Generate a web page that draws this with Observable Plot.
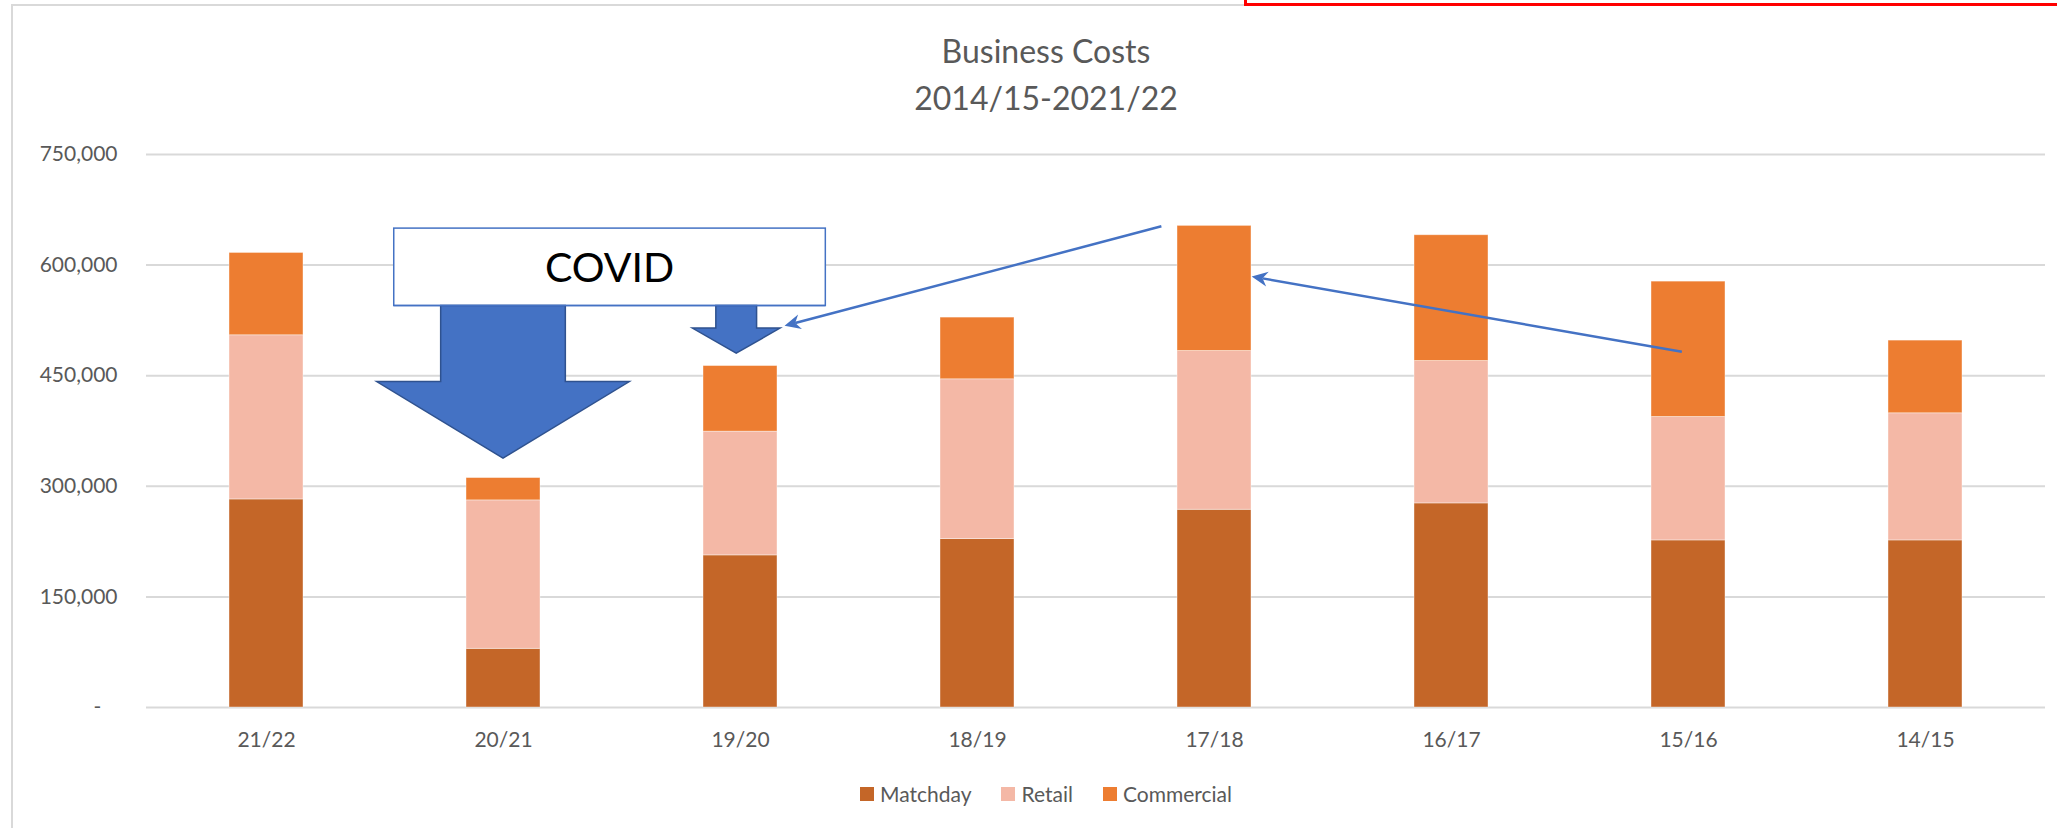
<!DOCTYPE html>
<html><head><meta charset="utf-8">
<script src="https://cdn.jsdelivr.net/npm/d3@7"></script>
<script src="https://cdn.jsdelivr.net/npm/@observablehq/plot@0.6"></script>
<style>
html,body{margin:0;padding:0;background:#fff;overflow:hidden}
#wrap{position:relative;width:2057px;height:828px;overflow:hidden;background:#fff}
#chart{position:absolute;left:0;top:0}
#frame{position:absolute;left:11px;top:4px;width:3000px;height:1000px;border-left:2px solid #D9D9D9;border-top:2px solid #D9D9D9;pointer-events:none}
#redbox{position:absolute;left:1244px;top:-100px;width:1000px;height:100px;border:3px solid #FF0000;background:#fff}
#legend{position:absolute;left:0;width:2092px;top:781px;display:flex;justify-content:center;align-items:center;gap:30px;
  font-family:Lato,'Open Sans',sans-serif;font-size:21px;color:#595959;line-height:25px;white-space:nowrap}
#legend .item{display:flex;align-items:center}
#legend .sw{display:inline-block;width:14px;height:14px;margin-right:6px}
</style></head>
<body><div id="wrap"><div id="chart"></div><div id="legend"></div><div id="frame"></div><div id="redbox"></div></div>
<script>
// ---- data ----
const seasons = ["21/22","20/21","19/20","18/19","17/18","16/17","15/16","14/15"];
const matchday   = [282200, 79600, 206300, 228400, 268200, 276800, 226600, 226600];
const retail     = [222600, 201300, 167800, 216700, 215300, 193100, 167400, 172400];
const commercial = [111700, 30300, 89000, 83700, 169700, 170600, 183600, 98600];
const seriesNames = ["Matchday","Retail","Commercial"];
const yTicks = [0,150000,300000,450000,600000,750000];
const titleText = "Business Costs";
const subtitleText = "2014/15-2021/22";
const covidLabel = "COVID";

// ---- styles ----
const seriesColors = ["#C46628","#F4B8A6","#ED7D31"];
const FONT = "Lato, 'Open Sans', sans-serif";
const TEXT = "#595959";
const BLUE = "#4472C4", BLUE_DARK = "#2F528F";

const seriesValues = [matchday, retail, commercial];
const rows = [];
seriesNames.forEach((s, k) => seasons.forEach((c, i) => rows.push({season: c, series: s, value: seriesValues[k][i]})));

const plot = Plot.plot({
  width: 2057, height: 828,
  marginTop: 154, marginBottom: 121, marginLeft: 146, marginRight: 12,
  style: {fontFamily: FONT, fontSize: "21px", color: TEXT, background: "transparent"},
  x: {domain: seasons, paddingInner: 0.688, paddingOuter: 0.344, label: null},
  y: {domain: [0, 750000], label: null},
  color: {domain: seriesNames, range: seriesColors},
  marks: [
    Plot.gridY(yTicks, {stroke: "#D9D9D9", strokeOpacity: 1, strokeWidth: 2}),
    Plot.barY(rows, Plot.stackY({x: "season", y: "value", fill: "series", order: seriesNames,
      stroke: "#fff", strokeWidth: 0.8, strokeOpacity: 0.5})),
    Plot.axisY(yTicks, {tickSize: 0, tickPadding: 29, label: null,
      tickFormat: d => d === 0 ? "-\u00a0\u00a0\u00a0" : d3.format(",")(d)}),
    Plot.axisX({tickSize: 0, tickPadding: 25, label: null})
  ]
});
document.getElementById("chart").appendChild(plot);

const svg = d3.select(plot);
const xs = plot.scale("x"), ys = plot.scale("y"), cs = plot.scale("color");
const xAt = (season, off) => xs.apply(season) + xs.bandwidth / 2 + off * xs.step;
const yAt = v => ys.apply(v);
const centerX = 1046;

// ---- title ----
const tg = svg.append("g").attr("font-family", FONT).attr("fill", TEXT).attr("font-size", 32).attr("text-anchor", "middle");
tg.append("text").attr("x", centerX).attr("y", 62.5).text(titleText);
tg.append("text").attr("x", centerX).attr("y", 109.5).text(subtitleText);

// ---- annotations (placed in data space) ----
const covidBox = {from: ["20/21", -0.461], to: ["20/21", 1.36], top: 649500, bottom: 544500};
const blockArrows = [
  {season: "20/21", off: 0.0,    shaftHalf: 0.263, headHalf: 0.533, base: 441400, tip: 337500},
  {season: "19/20", off: -0.016, shaftHalf: 0.086, headHalf: 0.185, base: 513900, tip: 479900}
];
const lineArrows = [
  {from: ["17/18", -0.222, 651900], to: ["19/20", 0.188, 517000]},
  {from: ["15/16", -0.026, 481700], to: ["17/18", 0.159, 583900]}
];

const ag = svg.append("g");
const bx0 = xAt(...covidBox.from), bx1 = xAt(...covidBox.to);
const by0 = yAt(covidBox.top), by1 = yAt(covidBox.bottom);
ag.append("rect").attr("x", bx0).attr("y", by0).attr("width", bx1 - bx0).attr("height", by1 - by0)
  .attr("fill", "#fff").attr("stroke", BLUE).attr("stroke-width", 1.5);
ag.append("text").attr("x", (bx0 + bx1) / 2).attr("y", (by0 + by1) / 2).attr("dy", "0.36em")
  .attr("text-anchor", "middle").attr("font-family", FONT).attr("font-size", 41).attr("fill", "#000").text(covidLabel);

blockArrows.forEach(a => {
  const cx = xAt(a.season, a.off), sw = a.shaftHalf * xs.step, hw = a.headHalf * xs.step;
  const top = by1, base = yAt(a.base), tip = yAt(a.tip);
  const pts = [[cx - sw, top], [cx - sw, base], [cx - hw, base], [cx, tip], [cx + hw, base], [cx + sw, base], [cx + sw, top]];
  ag.append("path").attr("d", "M" + pts.map(p => p.join(",")).join("L") + "Z")
    .attr("fill", BLUE).attr("stroke", BLUE_DARK).attr("stroke-width", 1.5).attr("stroke-linejoin", "miter");
});
ag.append("line").attr("x1", bx0).attr("x2", bx1).attr("y1", by1).attr("y2", by1).attr("stroke", BLUE).attr("stroke-width", 1.5);

lineArrows.forEach(a => {
  const x0 = xAt(a.from[0], a.from[1]), y0 = yAt(a.from[2]);
  const x1 = xAt(a.to[0], a.to[1]), y1 = yAt(a.to[2]);
  const len = Math.hypot(x1 - x0, y1 - y0), ux = (x1 - x0) / len, uy = (y1 - y0) / len, nx = -uy, ny = ux;
  const L = 16, W = 7.5, N = 11;
  ag.append("line").attr("x1", x0).attr("y1", y0).attr("x2", x1 - N * ux).attr("y2", y1 - N * uy)
    .attr("stroke", BLUE).attr("stroke-width", 2.5);
  const p = [[x1, y1], [x1 - L * ux + W * nx, y1 - L * uy + W * ny], [x1 - N * ux, y1 - N * uy], [x1 - L * ux - W * nx, y1 - L * uy - W * ny]];
  ag.append("path").attr("d", "M" + p.map(q => q.join(",")).join("L") + "Z").attr("fill", BLUE);
});

// ---- legend (HTML, colours from the plot's color scale) ----
const legend = d3.select("#legend");
seriesNames.forEach(s => {
  const it = legend.append("div").attr("class", "item");
  it.append("span").attr("class", "sw").style("background", cs.apply(s));
  it.append("span").text(s);
});
</script>
</body></html>
